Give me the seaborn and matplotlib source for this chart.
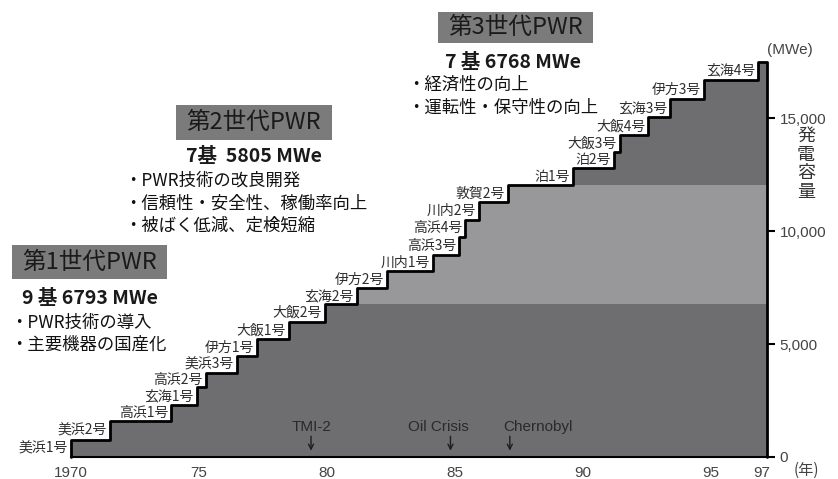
import numpy as np
import pandas as pd
import matplotlib
matplotlib.use('Agg')
import matplotlib.pyplot as plt
from matplotlib.patches import Rectangle
from matplotlib.ticker import FuncFormatter
import seaborn as sns

# 発電所ユニット (運転開始順)
units = ['美浜1号', '美浜2号', '高浜1号', '玄海1号', '高浜2号', '美浜3号', '伊方1号',
         '大飯1号', '大飯2号', '玄海2号', '伊方2号', '川内1号', '高浜3号', '高浜4号',
         '川内2号', '敦賀2号', '泊1号', '泊2号', '大飯3号', '大飯4号', '玄海3号',
         '伊方3号', '玄海4号']
start_year = [1970.0, 1971.52, 1973.91, 1974.91, 1975.26, 1976.48, 1977.25,
              1978.52, 1979.92, 1981.16, 1982.33, 1984.15, 1985.16, 1985.39,
              1985.94, 1987.07, 1989.62, 1991.21, 1991.45, 1992.55, 1993.40,
              1994.74, 1996.85]
cum_mw = [753, 1608, 2303, 3100, 3733, 4473, 5213, 5992, 6793, 7471, 8237,
          8946, 9756, 10496, 11306, 12046, 12786, 13494, 14261, 15044, 15841,
          16696, 17507]
end_year = 1997.2

gen_count = [9, 7, 7]
gen_title = ['第1世代PWR', '第2世代PWR', '第3世代PWR']
gen_sub = ['9 基 6793 MWe', '7基  5805 MWe', '7 基 6768 MWe']
gen_points = [['・PWR技術の導入', '・主要機器の国産化'],
              ['・PWR技術の改良開発', '・信頼性・安全性、稼働率向上', '・被ばく低減、定検短縮'],
              ['・経済性の向上', '・運転性・保守性の向上']]

events = ['TMI-2', 'Oil Crisis', 'Chernobyl']
event_year = [1979.38, 1984.83, 1987.15]
event_text_year = [1979.4, 1984.34, 1988.26]

xtick_years = [1970, 1975, 1980, 1985, 1990, 1995, 1997]
xtick_labels = ['1970', '75', '80', '85', '90', '95', '97']
ytick_vals = [0, 5000, 10000, 15000]

sns.set_theme(style='white')
plt.rcParams['font.family'] = ['Noto Sans CJK JP', 'DejaVu Sans']

W, H = 838, 479
fig = plt.figure(figsize=(W / 100, H / 100), dpi=100)
ax = fig.add_axes([71 / W, (H - 457) / H, 696 / W, 18 * 22.58 / H])
ax.set_xlim(1970, end_year)
ax.set_ylim(0, 18000)

# 世代ごとの塗り分け
idx = np.cumsum(gen_count) - 1
tops = [cum_mw[i] for i in idx]
bands = [(0, tops[0], '#6e6e71'), (tops[0], tops[1], '#98989b'), (tops[1], tops[2], '#6e6e71')]
xf = start_year + [end_year]
yf = np.array(cum_mw + [cum_mw[-1]])
for lo, hi, col in bands:
    ax.fill_between(xf, lo, np.clip(yf, lo, hi), step='post', color=col, lw=0)

# 階段の輪郭
df = pd.DataFrame({'year': [1970] + start_year + [end_year, end_year],
                   'mw': [0] + cum_mw + [cum_mw[-1], 0]})
sns.lineplot(data=df, x='year', y='mw', drawstyle='steps-post', sort=False,
             estimator=None, color='black', lw=2, ax=ax, clip_on=False)

# ユニット名
prev = 0
for name, yr, mw in zip(units, start_year, cum_mw):
    ax.annotate(name, (yr, (prev + mw) / 2), xytext=(-2, 0), textcoords='offset points',
                ha='right', va='center', fontsize=10, color='#2e2e2e')
    prev = mw

# 事故・出来事
for name, ay, ty in zip(events, event_year, event_text_year):
    ax.text(ty, 1330, name, ha='center', va='center', fontsize=11,
            family='Liberation Sans', color='#2a2a2a')
    ax.annotate('', xy=(ay, 280), xytext=(ay, 920),
                arrowprops=dict(arrowstyle='->', lw=1.0, color='#1e1e1e',
                                mutation_scale=9, shrinkA=0, shrinkB=0))

for s in ['top', 'left', 'right']:
    ax.spines[s].set_visible(False)
ax.spines['bottom'].set_color('black')
ax.spines['bottom'].set_linewidth(1.5)

ax.set_xticks(range(1970, 1998))
ax.set_xticklabels([xtick_labels[xtick_years.index(y)] if y in xtick_years else ''
                    for y in range(1970, 1998)])
ax.tick_params(axis='x', direction='inout', length=7, width=1.1, color='black',
               pad=3, labelsize=11, labelcolor='#444444')
ax.yaxis.tick_right()
ax.set_yticks(ytick_vals)
ax.yaxis.set_major_formatter(FuncFormatter(lambda v, p: f'{v:,.0f}'))
ax.tick_params(axis='y', direction='out', length=6, width=1.5, color='black',
               pad=3, labelsize=11, labelcolor='#444444')
for lab in ax.get_xticklabels() + ax.get_yticklabels():
    lab.set_family('Liberation Sans')
ax.set_xlabel('')
ax.set_ylabel('')
ax.grid(False)


def px(x, y):
    return x / W, 1 - y / H


fig.text(*px(790, 50), '(MWe)', ha='center', va='center', fontsize=11,
         family='Liberation Sans', color='#444444')
fig.text(*px(806, 470), '(年)', ha='center', va='center', fontsize=11, color='#444444')
fig.text(*px(806, 164), '発\n電\n容\n量', ha='center', va='center', fontsize=13,
         color='#333333', linespacing=1.05)

# 世代の見出しと説明
boxes = [(12, 245, 155, 34), (176, 105, 156, 35), (438, 12, 155, 31)]
subs = [(90, 299), (254, 156), (513, 62)]
bullets = [(10, [323, 345]), (124, [181, 204, 226]), (407, [85, 108])]
for i in range(3):
    bx, by, bw, bh = boxes[i]
    fig.add_artist(Rectangle(px(bx, by + bh), bw / W, bh / H, transform=fig.transFigure,
                             fc='#7b7b7b', ec='none'))
    fig.text(*px(bx + bw / 2, by + bh / 2), gen_title[i], ha='center', va='center',
             fontsize=17, color='#1a1a1a')
    fig.text(*px(*subs[i]), gen_sub[i], ha='center', va='center', fontsize=14,
             fontweight='bold', color='#1a1a1a')
    lx, lys = bullets[i]
    for t, ly in zip(gen_points[i], lys):
        fig.text(*px(lx, ly), t, ha='left', va='center', fontsize=12.5, color='#111111')

fig.savefig('out.png', dpi=100, facecolor='white')
